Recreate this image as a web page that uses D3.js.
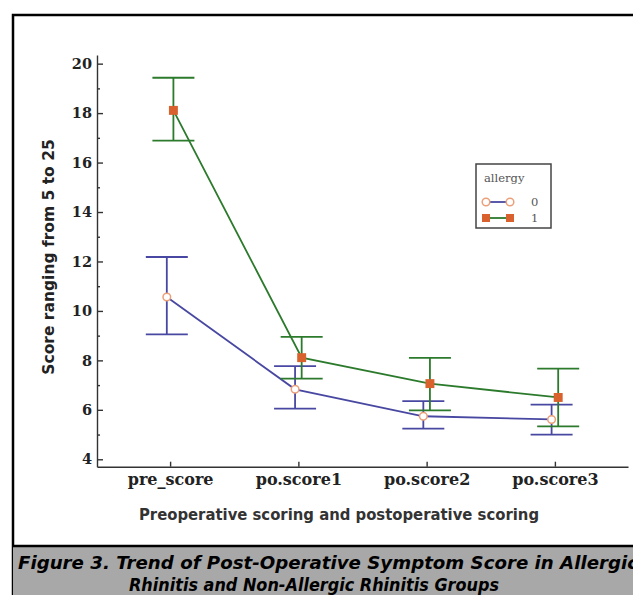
<!DOCTYPE html>
<html>
<head>
<meta charset="utf-8">
<script src="https://cdn.jsdelivr.net/npm/d3@7"></script>
<style>
  body { margin: 0; background: #fff; }
  svg { display: block; }
</style>
</head>
<body>
<svg id="chart" width="633" height="595"></svg>
<script>
// categories on the x axis
const categories = ["pre_score", "po.score1", "po.score2", "po.score3"];
const groups = ["0", "1"];

// allergy = 0 : mean and error bar ends
const mean0 = [10.56, 6.83, 5.74, 5.61];
const upper0 = [12.18, 7.77, 6.35, 6.21];
const lower0 = [9.05, 6.05, 5.24, 5.00];

// allergy = 1
const mean1 = [18.11, 8.11, 7.06, 6.50];
const upper1 = [19.43, 8.95, 8.10, 7.67];
const lower1 = [16.89, 7.26, 5.98, 5.33];

const yMajorTicks = [4, 6, 8, 10, 12, 14, 16, 18, 20];
const yMinorTicks = [5, 7, 9, 11, 13, 15, 17, 19];

const svg = d3.select("#chart");

// outer frame, open on the right like the cropped figure
svg.append("rect")
    .attr("x", 13).attr("y", 15)
    .attr("width", 700).attr("height", 620)
    .attr("fill", "#fff")
    .attr("stroke", "#000")
    .attr("stroke-width", 2.5);

// plot area
const plot = { left: 97, right: 628, top: 55, bottom: 466.7 };

const xScale = d3.scalePoint()
    .domain(categories)
    .range([plot.left, plot.right])
    .padding(0.57);

const yScale = d3.scaleLinear()
    .domain([3.7, 20.35])
    .range([plot.bottom, plot.top]);

const axisColor = "#333";

// y axis, ticks pointing inward
const yAxisG = svg.append("g")
    .attr("transform", `translate(${plot.left},0)`)
    .call(d3.axisLeft(yScale).tickValues(yMajorTicks).tickSizeInner(-6).tickSizeOuter(0).tickPadding(5));
svg.append("g")
    .attr("transform", `translate(${plot.left},0)`)
    .call(d3.axisLeft(yScale).tickValues(yMinorTicks).tickSizeInner(-3).tickSizeOuter(0).tickFormat(""))
    .select(".domain").remove();

yAxisG.selectAll("text")
    .attr("font-family", "'DejaVu Serif', serif")
    .attr("font-weight", "bold")
    .attr("font-size", 14.5)
    .attr("fill", "#222");

// x axis, ticks pointing up
const xAxisG = svg.append("g")
    .attr("transform", `translate(0,${plot.bottom})`)
    .call(d3.axisBottom(xScale).tickSizeInner(-5).tickSizeOuter(0).tickPadding(7));

xAxisG.selectAll("text")
    .attr("font-family", "'DejaVu Serif', serif")
    .attr("font-weight", "bold")
    .attr("font-size", 16)
    .attr("fill", "#222");

svg.selectAll(".domain, .tick line")
    .attr("stroke", axisColor)
    .attr("stroke-width", 1.4);

// axis titles
svg.append("text")
    .attr("transform", "translate(54,257) rotate(-90)")
    .attr("text-anchor", "middle")
    .attr("font-family", "'DejaVu Sans', sans-serif")
    .attr("font-weight", "bold")
    .attr("font-size", 15.5)
    .attr("fill", "#222")
    .text("Score ranging from 5 to 25");

svg.append("text")
    .attr("x", 339).attr("y", 520)
    .attr("text-anchor", "middle")
    .attr("font-family", "'DejaVu Sans Condensed', 'DejaVu Sans', sans-serif")
    .attr("font-stretch", "condensed")
    .attr("font-weight", "bold")
    .attr("font-size", 16.5)
    .attr("fill", "#333")
    .text("Preoperative scoring and postoperative scoring");

// series
const series = [
  { key: groups[0], mean: mean0, upper: upper0, lower: lower0, line: "#4848a2", dx: -3.3 },
  { key: groups[1], mean: mean1, upper: upper1, lower: lower1, line: "#2c7a2c", dx: 3.3 }
];

const capHalf = 21;

series.forEach(s => {
  const pts = categories.map((c, i) => ({
    x: xScale(c) + s.dx,
    m: s.mean[i], hi: s.upper[i], lo: s.lower[i]
  }));
  const g = svg.append("g");

  // error bars
  g.selectAll(".vbar").data(pts).enter().append("line")
      .attr("x1", d => d.x).attr("x2", d => d.x)
      .attr("y1", d => yScale(d.hi)).attr("y2", d => yScale(d.lo))
      .attr("stroke", s.line).attr("stroke-width", 1.8);
  g.selectAll(".cap").data(pts.flatMap(d => [{ x: d.x, v: d.hi }, { x: d.x, v: d.lo }]))
      .enter().append("line")
      .attr("x1", d => d.x - capHalf).attr("x2", d => d.x + capHalf)
      .attr("y1", d => yScale(d.v)).attr("y2", d => yScale(d.v))
      .attr("stroke", s.line).attr("stroke-width", 1.8);

  // trend line
  g.append("path")
      .datum(pts)
      .attr("fill", "none")
      .attr("stroke", s.line)
      .attr("stroke-width", 1.8)
      .attr("d", d3.line().x(d => d.x).y(d => yScale(d.m)));

  s.pts = pts;
  s.g = g;
});

// markers
series[0].g.selectAll(".mk").data(series[0].pts).enter().append("circle")
    .attr("cx", d => d.x).attr("cy", d => yScale(d.m)).attr("r", 3.8)
    .attr("fill", "#fff").attr("stroke", "#eba07a").attr("stroke-width", 1.5);

series[1].g.selectAll(".mk").data(series[1].pts).enter().append("path")
    .attr("transform", d => `translate(${d.x},${yScale(d.m)})`)
    .attr("d", d3.symbol(d3.symbolSquare, 80))
    .attr("fill", "#d8612e");

// legend
const lg = svg.append("g").attr("transform", "translate(476,164)");
lg.append("rect").attr("width", 75).attr("height", 64)
    .attr("fill", "#fff").attr("stroke", "#444").attr("stroke-width", 1.5);
lg.append("text").attr("x", 8).attr("y", 18)
    .attr("font-family", "'DejaVu Serif', serif").attr("font-size", 11.5).attr("fill", "#555")
    .text("allergy");

groups.forEach((gk, i) => {
  const y = 38 + i * 16;
  const s = series[i];
  lg.append("line").attr("x1", 10).attr("x2", 34).attr("y1", y).attr("y2", y)
      .attr("stroke", s.line).attr("stroke-width", 1.8);
  [10, 34].forEach(x => {
    if (i === 0) {
      lg.append("circle").attr("cx", x).attr("cy", y).attr("r", 3.8)
          .attr("fill", "#fff").attr("stroke", "#eba07a").attr("stroke-width", 1.5);
    } else {
      lg.append("path").attr("transform", `translate(${x},${y})`)
          .attr("d", d3.symbol(d3.symbolSquare, 64)).attr("fill", "#d8612e");
    }
  });
  lg.append("text").attr("x", 55).attr("y", y + 4)
      .attr("font-family", "'DejaVu Serif', serif").attr("font-size", 11.5).attr("fill", "#555")
      .text(gk);
});

// caption band
svg.append("rect")
    .attr("x", 13).attr("y", 546)
    .attr("width", 640).attr("height", 60)
    .attr("fill", "#a8a8a8");
svg.append("line")
    .attr("x1", 13).attr("x2", 640).attr("y1", 546).attr("y2", 546)
    .attr("stroke", "#000").attr("stroke-width", 2.5);

const capStyle = sel => sel
    .attr("font-family", "'DejaVu Sans', sans-serif")
    .attr("font-weight", "bold")
    .attr("font-style", "italic")
    .attr("font-size", 17)
    .attr("fill", "#000")
    .attr("lengthAdjust", "spacingAndGlyphs");

svg.append("text").attr("x", 18).attr("y", 569)
    .call(capStyle)
    .attr("textLength", 620)
    .text("Figure 3. Trend of Post-Operative Symptom Score in Allergic");
svg.append("text").attr("x", 129).attr("y", 591)
    .call(capStyle)
    .attr("textLength", 370)
    .text("Rhinitis and Non-Allergic Rhinitis Groups");
</script>
</body>
</html>
